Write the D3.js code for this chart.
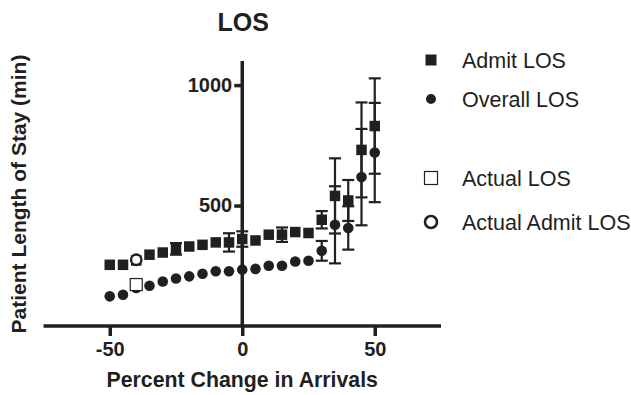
<!DOCTYPE html>
<html>
<head>
<meta charset="utf-8">
<script src="https://cdn.jsdelivr.net/npm/d3@7"></script>
<style>
  body { margin: 0; background: #fff; }
  svg { font-family: "Liberation Sans", Arial, sans-serif; }
</style>
</head>
<body>
<div id="chart"></div>
<script>
// percent change in arrivals (x) and modelled length of stay (minutes)
const pctChange = [-50, -45, -40, -35, -30, -25, -20, -15, -10, -5, 0, 5, 10, 15, 20, 25, 30, 35, 40, 45, 50];
const admitLOS = [254, 254, 272, 296, 305, 320, 330, 337, 347, 347, 361, 355, 379, 379, 390, 386, 441, 540, 521, 731, 830];
const admitErr = [0, 0, 0, 0, 0, 24, 0, 0, 0, 38, 32, 0, 0, 30, 0, 0, 36, 156, 85, 197, 198];
const overallLOS = [123, 130, 158, 167, 185, 197, 206, 217, 227, 227, 234, 237, 250, 250, 268, 271, 312, 420, 407, 618, 720];
const overallErr = [0, 0, 0, 0, 0, 0, 0, 0, 0, 0, 0, 0, 0, 0, 0, 0, 41, 160, 90, 200, 206];
// observed values at the actual arrival rate
const actualX = [-40];
const actualLOS = [172];
const actualAdmitLOS = [275];

const xTicks = [-50, 0, 50];
const yTicks = [500, 1000];
const legendLabels = ["Admit LOS", "Overall LOS", "Actual LOS", "Actual Admit LOS"];

const width = 631, height = 395;
const svg = d3.select("#chart").append("svg")
  .attr("width", width)
  .attr("height", height);

const x = d3.scaleLinear().domain([-75, 75]).range([43.5, 441]);
const y = d3.scaleLinear().domain([0, 1100]).range([326, 61]);

const ink = "#231f20";

// title
svg.append("text")
  .text("LOS")
  .attr("x", x(0) + 1)
  .attr("y", 31)
  .attr("text-anchor", "middle")
  .attr("font-weight", "bold")
  .style("font-size", "25px")
  .attr("fill", ink);

// axes crossing at origin, plain hyphen for negatives like the original
let fmt = d => String(d);
let xAxis = svg.append("g")
  .attr("transform", "translate(0," + y(0) + ")")
  .call(d3.axisBottom(x).tickValues(xTicks).tickSize(10).tickPadding(6).tickFormat(fmt));
let yAxis = svg.append("g")
  .attr("transform", "translate(" + x(0) + ",0)")
  .call(d3.axisLeft(y).tickValues(yTicks).tickSize(8).tickPadding(2).tickFormat(fmt));

[xAxis, yAxis].forEach(a => {
  a.select(".domain").attr("stroke", ink).attr("stroke-width", 3.5);
  a.selectAll(".tick line").attr("stroke", ink).attr("stroke-width", 3.5);
  a.selectAll(".tick text")
    .attr("fill", ink)
    .attr("font-weight", "bold")
    .style("font-size", "20px")
    .style("font-family", "'Liberation Sans', Arial, sans-serif");
});
xAxis.select(".domain").attr("d", "M" + x(-75) + ",0H" + x(75));
yAxis.select(".domain").attr("d", "M0," + y(1100) + "V" + y(0));

// axis titles
svg.append("text")
  .text("Percent Change in Arrivals")
  .attr("x", x(0))
  .attr("y", 387)
  .attr("text-anchor", "middle")
  .attr("font-weight", "bold")
  .style("font-size", "21.3px")
  .attr("fill", ink);
svg.append("text")
  .text("Patient Length of Stay (min)")
  .attr("transform", "translate(26,194) rotate(-90)")
  .attr("text-anchor", "middle")
  .attr("font-weight", "bold")
  .style("font-size", "21px")
  .attr("fill", ink);

// error bars
function drawErrors(vals, errs) {
  let pts = pctChange.map((p, i) => ({x: p, y: vals[i], e: errs[i]})).filter(d => d.e > 0);
  let g = svg.append("g").attr("stroke", ink).attr("stroke-width", 2.2);
  g.selectAll(".stem").data(pts).join("line")
    .attr("x1", d => x(d.x)).attr("x2", d => x(d.x))
    .attr("y1", d => y(d.y + d.e)).attr("y2", d => y(d.y - d.e));
  g.selectAll(".capTop").data(pts).join("line")
    .attr("x1", d => x(d.x) - 6).attr("x2", d => x(d.x) + 6)
    .attr("y1", d => y(d.y + d.e)).attr("y2", d => y(d.y + d.e));
  g.selectAll(".capBot").data(pts).join("line")
    .attr("x1", d => x(d.x) - 6).attr("x2", d => x(d.x) + 6)
    .attr("y1", d => y(d.y - d.e)).attr("y2", d => y(d.y - d.e));
}
drawErrors(overallLOS, overallErr);
drawErrors(admitLOS, admitErr);

// markers
const sq = 10.5;
svg.append("g").selectAll("rect")
  .data(pctChange.map((p, i) => ({x: p, y: admitLOS[i]})))
  .join("rect")
  .attr("x", d => x(d.x) - sq / 2)
  .attr("y", d => y(d.y) - sq / 2)
  .attr("width", sq).attr("height", sq)
  .attr("fill", ink);
svg.append("g").selectAll("circle")
  .data(pctChange.map((p, i) => ({x: p, y: overallLOS[i]})))
  .join("circle")
  .attr("cx", d => x(d.x))
  .attr("cy", d => y(d.y))
  .attr("r", 5.3)
  .attr("fill", ink);

svg.append("g").selectAll("rect")
  .data(actualX.map((p, i) => ({x: p, y: actualLOS[i]})))
  .join("rect")
  .attr("x", d => x(d.x) - 6)
  .attr("y", d => y(d.y) - 6)
  .attr("width", 12).attr("height", 12)
  .attr("fill", "#fff")
  .attr("stroke", ink)
  .attr("stroke-width", 1.2);
svg.append("g").selectAll("circle")
  .data(actualX.map((p, i) => ({x: p, y: actualAdmitLOS[i]})))
  .join("circle")
  .attr("cx", d => x(d.x))
  .attr("cy", d => y(d.y))
  .attr("r", 5.2)
  .attr("fill", "#fff")
  .attr("stroke", ink)
  .attr("stroke-width", 2.4);

// legend
const legendY = [60, 99, 178, 222];
let legend = svg.selectAll(".legend")
  .data(legendLabels)
  .join("g")
  .attr("class", "legend")
  .attr("transform", (d, i) => "translate(431," + legendY[i] + ")");

legend.each(function (d, i) {
  let g = d3.select(this);
  if (i === 0) g.append("rect").attr("x", -5.5).attr("y", -5.5).attr("width", 11).attr("height", 11).attr("fill", ink);
  if (i === 1) g.append("circle").attr("r", 5).attr("fill", ink);
  if (i === 2) g.append("rect").attr("x", -6.5).attr("y", -6.5).attr("width", 13).attr("height", 13)
    .attr("fill", "#fff").attr("stroke", ink).attr("stroke-width", 1.2);
  if (i === 3) g.append("circle").attr("r", 6).attr("fill", "#fff").attr("stroke", ink).attr("stroke-width", 2.6);
});
legend.append("text")
  .text(d => d)
  .attr("x", 31)
  .attr("y", 7.5)
  .style("font-size", "21.5px")
  .attr("fill", ink);
</script>
</body>
</html>
